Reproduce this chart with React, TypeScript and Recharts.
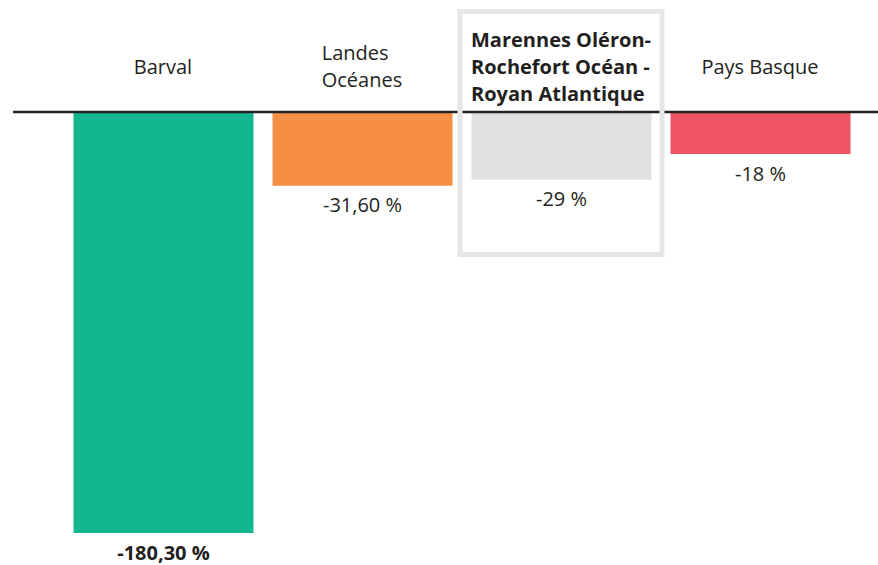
import { BarChart, Bar, XAxis, YAxis, Cell, LabelList } from "recharts";

document.body.style.margin = "0";

const categories = ["Barval", "Landes Océanes", "Marennes Oléron-Rochefort Océan - Royan Atlantique", "Pays Basque"];
const categoryLines = [["Barval"], ["Landes", "Océanes"], ["Marennes Oléron-", "Rochefort Océan -", "Royan Atlantique"], ["Pays Basque"]];
const values = [-180.3, -31.6, -29, -18];
const valueLabels = ["-180,30 %", "-31,60 %", "-29 %", "-18 %"];
const colors = ["#12b68f", "#f58e45", "#e0e1e3", "#ef5462"];

const highlighted = 2; // boxed category with bold label
const boldValue = 0; // value label drawn bold

const FONT = "'Open Sans', 'Noto Sans', sans-serif";
const TEXT = "#231f20";

const data = categories.map((c, i) => ({ name: c, value: values[i], i }));

let ctx: CanvasRenderingContext2D | null = null;
function textWidth(s: string, weight: number) {
  if (!ctx) ctx = document.createElement("canvas").getContext("2d");
  if (!ctx) return s.length * 10;
  ctx.font = `${weight} 20px 'Open Sans'`;
  return ctx.measureText(s).width;
}

function CategoryTick(props: any) {
  const { x, payload } = props;
  const idx = payload.index;
  const lines = categoryLines[idx];
  const bold = idx === highlighted;
  const weight = bold ? 700 : 400;
  const w = Math.max(...lines.map((l) => textWidth(l, weight)));
  const cy = 66;
  return (
    <g>
      {bold && (
        <rect x={x - 101} y={11.5} width={202} height={243} fill="none" stroke="#e6e6e6" strokeWidth={5} />
      )}
      {lines.map((l, k) => (
        <text
          key={k}
          x={x - w / 2}
          y={cy + (k - (lines.length - 1) / 2) * 27}
          dominantBaseline="central"
          textAnchor="start"
          fontFamily={FONT}
          fontSize={20}
          fontWeight={weight}
          fill={TEXT}
        >
          {l}
        </text>
      ))}
    </g>
  );
}

function ValueLabel(props: any) {
  const { x, y, width, height, index } = props;
  const bottom = Math.max(y, y + height);
  return (
    <text
      x={x + width / 2}
      y={bottom + 19}
      textAnchor="middle"
      dominantBaseline="central"
      fontFamily={FONT}
      fontSize={20}
      fontWeight={index === boldValue ? 700 : 400}
      fill={TEXT}
    >
      {valueLabels[index]}
    </text>
  );
}

export default function App() {
  return (
    <div style={{ width: 878, height: 565, background: "#fff" }}>
      <BarChart width={878} height={565} data={data} margin={{ top: 0, right: 0, bottom: 32, left: 13 }}>
        <XAxis
          dataKey="name"
          orientation="top"
          height={112}
          padding={{ left: 50.5, right: 18.5 }}
          axisLine={{ stroke: "#222", strokeWidth: 2.5 }}
          tickLine={false}
          tick={<CategoryTick />}
          interval={0}
        />
        <YAxis hide domain={[-180.3, 0]} />
        <Bar dataKey="value" barSize={180} isAnimationActive={false}>
          {data.map((d) => (
            <Cell key={d.name} fill={colors[d.i]} />
          ))}
          <LabelList dataKey="value" content={<ValueLabel />} />
        </Bar>
      </BarChart>
    </div>
  );
}
